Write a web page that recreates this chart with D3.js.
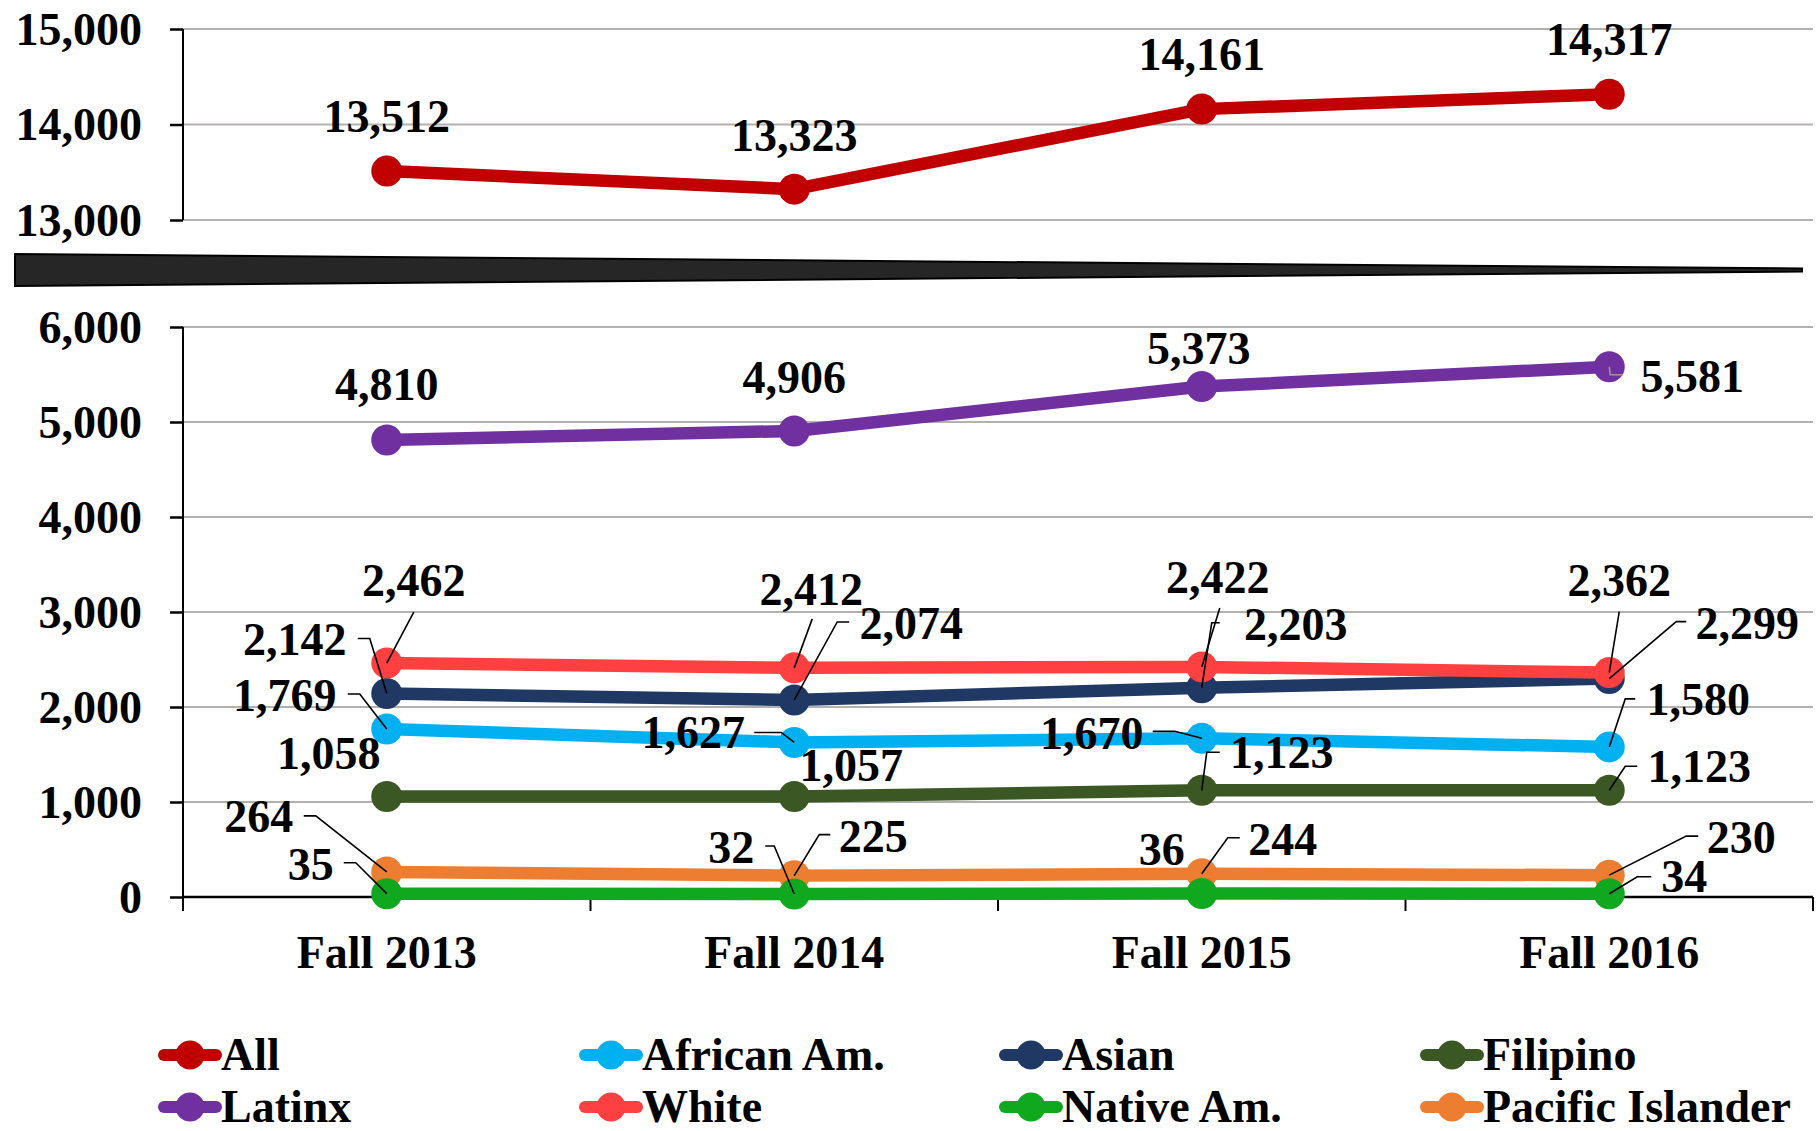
<!DOCTYPE html>
<html><head><meta charset="utf-8">
<script src="https://cdn.jsdelivr.net/npm/d3@7"></script>
<style>
html,body{margin:0;padding:0;background:#fff;}
svg text{font-family:"Liberation Serif","Times New Roman",serif;font-weight:bold;fill:#000;}
</style></head>
<body>
<svg id="chart" width="1820" height="1131"></svg>
<script>
// ---------- data ----------
const categories = ["Fall 2013", "Fall 2014", "Fall 2015", "Fall 2016"];
const allValues      = [13512, 13323, 14161, 14317];
const africanAm      = [1769, 1627, 1670, 1580];
const asian          = [2142, 2074, 2203, 2299];
const filipino       = [1058, 1057, 1123, 1123];
const latinx         = [4810, 4906, 5373, 5581];
const white          = [2462, 2412, 2422, 2362];
const nativeAm       = [35, 32, 36, 34];
const pacificIslander= [264, 225, 244, 230];
const topTicks    = [13000, 14000, 15000];
const bottomTicks = [0, 1000, 2000, 3000, 4000, 5000, 6000];
const legendNames = ["All", "African Am.", "Asian", "Filipino", "Latinx", "White", "Native Am.", "Pacific Islander"];

// ---------- styles / layout ----------
const colors = {
  "All": "#C00000", "African Am.": "#00B0F0", "Asian": "#203864", "Filipino": "#3A5724",
  "Latinx": "#7030A0", "White": "#FF4040", "Native Am.": "#0FA81F", "Pacific Islander": "#ED7D31"
};
// label placement relative to the data point: [dx, dy, leader points..., leader colour]
const labelLayout = {
  "All": [[0,-54],[0,-53],[0,-54],[0,-54]],
  "Latinx": [[0,-55],[0,-53],[-3,-38],[83,10,[[1,8],[14,8]],"#999"]],
  "White": [[27,-82,[[27,-51]]],[17,-78,[[18,-49]]],[16,-89,[[18,-59]]],[10,-92,[[10,-61]]]],
  "Asian": [[-92,-54,[[-17,-55],[-29,-55]]],[117,-76,[[43,-78],[55,-78]]],[94,-63,[[10,-65],[18,-65]]],[138,-55,[[67,-57],[77,-57]]]],
  "African Am.": [[-102,-33,[[-27,-35],[-39,-35]]],[-101,-10,[[-13,-10],[-40,-10]]],[-110,-5,[[-27,-7],[-49,-7]]],[89,-47,[[16,-48],[26,-48]]]],
  "Filipino": [[-58,-43],[57,-31],[80,-37,[[5,-38],[18,-38]]],[90,-23,[[16,-24],[28,-24]]]],
  "Pacific Islander": [[-128,-55,[[-71,-56],[-83,-56]]],[79,-39,[[25,-41],[36,-41]]],[81,-34,[[26,-36],[38,-36]]],[132,-37,[[77,-39],[89,-39]]]],
  "Native Am.": [[-76,-29,[[-31,-31],[-43,-31]]],[-63,-46,[[-20,-48],[-29,-48]]],[-40,-44],[75,-17,[[28,-17],[42,-17]]]]
};
const FS = 46;
const plotLeft = 183, plotRight = 1813;

const svg = d3.select("#chart");
const fmt = d3.format(",");

const x = d3.scalePoint().domain(categories).range([plotLeft, plotRight]).padding(0.5);
const xBand = d3.scaleBand().domain(categories).range([plotLeft, plotRight]);
const yTop = d3.scaleLinear().domain([13000, 15000]).range([220, 29]);
const yBot = d3.scaleLinear().domain([0, 6000]).range([897, 327]);

// ---------- gridlines ----------
function grid(scale, ticks) {
  svg.append("g").selectAll("line").data(ticks).join("line")
    .attr("x1", plotLeft).attr("x2", plotRight)
    .attr("y1", d => scale(d)).attr("y2", d => scale(d))
    .attr("stroke", "#B3B0B0").attr("stroke-width", 2.2);
}
grid(yTop, topTicks);
grid(yBot, bottomTicks.filter(d => d > 0));

// ---------- y axes ----------
function yAxis(scale, ticks, extraBottom) {
  const g = svg.append("g").attr("transform", `translate(${plotLeft},0)`);
  const ax = d3.axisLeft(scale).tickValues(ticks).tickFormat(fmt).tickSize(13).tickPadding(28);
  g.call(ax);
  g.select(".domain").remove();
  const r = scale.range();
  g.append("line").attr("x1", 0).attr("x2", 0).attr("y1", r[1]).attr("y2", r[0] + extraBottom)
    .attr("stroke", "#000").attr("stroke-width", 2);
  g.selectAll(".tick line").attr("stroke", "#000").attr("stroke-width", 2.5);
  g.selectAll(".tick text").style("font-size", FS + "px").attr("dy", "0.33em")
    .style("font-family", '"Liberation Serif","Times New Roman",serif').style("font-weight", "bold");
}
yAxis(yTop, topTicks, 0);
yAxis(yBot, bottomTicks, 14);

// ---------- x axis ----------
const xg = svg.append("g").attr("transform", `translate(0,${yBot(0)})`);
xg.append("line").attr("x1", plotLeft).attr("x2", plotRight).attr("y1", 0).attr("y2", 0)
  .attr("stroke", "#000").attr("stroke-width", 2.5);
const bounds = categories.slice(1).map(c => xBand(c)).concat([plotRight]);
xg.selectAll("line.tk").data(bounds).join("line").attr("class", "tk")
  .attr("x1", d => d).attr("x2", d => d).attr("y1", 0).attr("y2", 14)
  .attr("stroke", "#000").attr("stroke-width", 2);
xg.selectAll("text").data(categories).join("text")
  .attr("x", d => x(d)).attr("y", 71).attr("text-anchor", "middle")
  .style("font-size", FS + "px").text(d => d);

// ---------- axis break wedge ----------
svg.append("path")
  .attr("d", "M15,254 L1802,268.5 L1802,271.5 L15,286 Z")
  .attr("fill", "#262626").attr("stroke", "#000").attr("stroke-width", 2);

// ---------- series (drawing order) ----------
const seriesData = [
  {name: "All", values: allValues, y: yTop},
  {name: "African Am.", values: africanAm, y: yBot},
  {name: "Asian", values: asian, y: yBot},
  {name: "Filipino", values: filipino, y: yBot},
  {name: "Latinx", values: latinx, y: yBot},
  {name: "White", values: white, y: yBot},
  {name: "Pacific Islander", values: pacificIslander, y: yBot},
  {name: "Native Am.", values: nativeAm, y: yBot}
];
const LW = 12.5, R = 15.5;
seriesData.forEach(s => {
  const pts = s.values.map((v, i) => [x(categories[i]), s.y(v)]);
  const g = svg.append("g");
  g.append("path").attr("d", d3.line()(pts)).attr("fill", "none")
    .attr("stroke", colors[s.name]).attr("stroke-width", LW).attr("stroke-linejoin", "round");
  g.selectAll("circle").data(pts).join("circle")
    .attr("cx", d => d[0]).attr("cy", d => d[1]).attr("r", R).attr("fill", colors[s.name]);
});

// ---------- data labels ----------
const lg = svg.append("g");
seriesData.forEach(s => {
  s.values.forEach((v, i) => {
    const px = x(categories[i]), py = s.y(v);
    const L = labelLayout[s.name][i];
    if (L[2]) {
      const pts = [[px, py]].concat(L[2].map(p => [px + p[0], py + p[1]]));
      lg.append("path").attr("d", d3.line()(pts)).attr("fill", "none")
        .attr("stroke", L[3] || "#000").attr("stroke-width", 1.6);
    }
    lg.append("text").attr("x", px + L[0]).attr("y", py + L[1]).attr("dy", "0.33em")
      .attr("text-anchor", "middle").style("font-size", FS + "px").text(fmt(v));
  });
});

// ---------- legend ----------
const legCols = [159, 580, 1000, 1421];
const legRows = [1055, 1107];
const leg = svg.append("g");
legendNames.forEach((n, i) => {
  const lx = legCols[i % 4], ly = legRows[Math.floor(i / 4)];
  leg.append("line").attr("x1", lx + 5).attr("x2", lx + 57).attr("y1", ly).attr("y2", ly)
    .attr("stroke", colors[n]).attr("stroke-width", 12).attr("stroke-linecap", "round");
  leg.append("circle").attr("cx", lx + 31).attr("cy", ly).attr("r", 14.5).attr("fill", colors[n]);
  leg.append("text").attr("x", lx + 62).attr("y", ly).attr("dy", "0.33em")
    .style("font-size", "46px").text(n);
});
</script>
</body></html>
